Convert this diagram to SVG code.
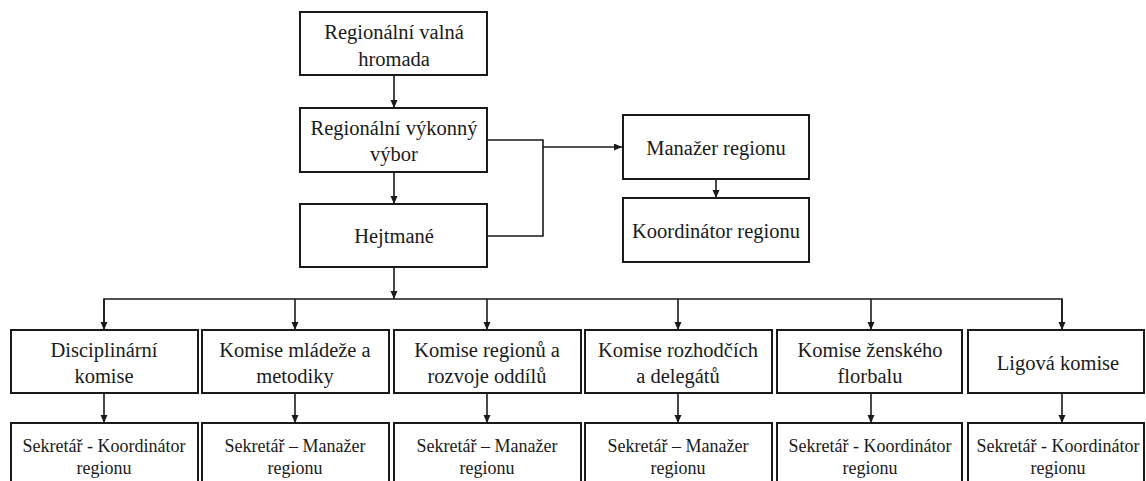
<svg xmlns="http://www.w3.org/2000/svg" width="1146" height="481" viewBox="0 0 1146 481" font-family="Liberation Serif, DejaVu Serif, serif">
  <style>
    .box { fill: #fff; stroke: #1a1a1a; stroke-width: 2; }
    .lbl { font-size: 20.5px; fill: #1a1a1a; text-anchor: middle; }
    .sm { font-size: 18px; }
    .wire { fill: none; stroke: #1a1a1a; stroke-width: 1.6; }
  </style>
  <defs>
    <marker id="arr" markerUnits="userSpaceOnUse" markerWidth="9" markerHeight="8" refX="8" refY="3.5" orient="auto">
      <path d="M0,0 L8,3.5 L0,7 z" fill="#1a1a1a"/>
    </marker>
  </defs>
  <rect width="1146" height="481" fill="#fff"/>

  <g id="connectors">
    <line class="wire" x1="394" y1="75" x2="394" y2="108" marker-end="url(#arr)"/>
    <line class="wire" x1="394" y1="172" x2="394" y2="204" marker-end="url(#arr)"/>
    <polyline class="wire" points="487,140 543,140 543,236 487,236"/>
    <line class="wire" x1="543" y1="147" x2="622" y2="147" marker-end="url(#arr)"/>
    <line class="wire" x1="716" y1="179" x2="716" y2="198" marker-end="url(#arr)"/>
    <line class="wire" x1="394" y1="267" x2="394" y2="299" marker-end="url(#arr)"/>
    <polyline class="wire" points="104,330 104,299 1062,299 1062,330"/>
    <line class="wire" x1="104" y1="299" x2="104" y2="330" marker-end="url(#arr)"/>
    <line class="wire" x1="295" y1="299" x2="295" y2="330" marker-end="url(#arr)"/>
    <line class="wire" x1="487" y1="299" x2="487" y2="330" marker-end="url(#arr)"/>
    <line class="wire" x1="678" y1="299" x2="678" y2="330" marker-end="url(#arr)"/>
    <line class="wire" x1="871" y1="299" x2="871" y2="330" marker-end="url(#arr)"/>
    <line class="wire" x1="1062" y1="299" x2="1062" y2="330" marker-end="url(#arr)"/>
    <line class="wire" x1="104" y1="393" x2="104" y2="423" marker-end="url(#arr)"/>
    <line class="wire" x1="295" y1="393" x2="295" y2="423" marker-end="url(#arr)"/>
    <line class="wire" x1="487" y1="393" x2="487" y2="423" marker-end="url(#arr)"/>
    <line class="wire" x1="678" y1="393" x2="678" y2="423" marker-end="url(#arr)"/>
    <line class="wire" x1="871" y1="393" x2="871" y2="423" marker-end="url(#arr)"/>
    <line class="wire" x1="1062" y1="393" x2="1062" y2="423" marker-end="url(#arr)"/>
  </g>

  <g id="valna-hromada">
    <rect class="box" x="300" y="12" width="187" height="63"/>
    <text class="lbl" x="394" y="39">Regionální valná</text>
    <text class="lbl" x="394" y="66">hromada</text>
  </g>
  <g id="vykonny-vybor">
    <rect class="box" x="300" y="108" width="187" height="64"/>
    <text class="lbl" x="394" y="135">Regionální výkonný</text>
    <text class="lbl" x="394" y="161">výbor</text>
  </g>
  <g id="hejtmane">
    <rect class="box" x="300" y="204" width="187" height="63"/>
    <text class="lbl" x="394" y="243">Hejtmané</text>
  </g>
  <g id="manazer">
    <rect class="box" x="623" y="115" width="186" height="64"/>
    <text class="lbl" x="716" y="155">Manažer regionu</text>
  </g>
  <g id="koordinator">
    <rect class="box" x="623" y="198" width="186" height="64"/>
    <text class="lbl" x="716" y="238">Koordinátor regionu</text>
  </g>

  <g id="disciplinarni">
    <rect class="box" x="11" y="330" width="187" height="63"/>
    <text class="lbl" x="104" y="357">Disciplinární</text>
    <text class="lbl" x="104" y="383">komise</text>
  </g>
  <g id="mladez">
    <rect class="box" x="202" y="330" width="187" height="63"/>
    <text class="lbl" x="295" y="357">Komise mládeže a</text>
    <text class="lbl" x="295" y="383">metodiky</text>
  </g>
  <g id="regiony">
    <rect class="box" x="394" y="330" width="187" height="63"/>
    <text class="lbl" x="487" y="357">Komise regionů a</text>
    <text class="lbl" x="487" y="383">rozvoje oddílů</text>
  </g>
  <g id="rozhodci">
    <rect class="box" x="585" y="330" width="187" height="63"/>
    <text class="lbl" x="678" y="357">Komise rozhodčích</text>
    <text class="lbl" x="678" y="383">a delegátů</text>
  </g>
  <g id="zensky">
    <rect class="box" x="777" y="330" width="185" height="63"/>
    <text class="lbl" x="870" y="357">Komise ženského</text>
    <text class="lbl" x="870" y="383">florbalu</text>
  </g>
  <g id="ligova">
    <rect class="box" x="968" y="330" width="176" height="63"/>
    <text class="lbl" x="1058" y="370">Ligová komise</text>
  </g>

  <g id="sekretar-1">
    <rect class="box" x="11" y="423" width="187" height="70"/>
    <text class="lbl sm" x="104" y="452">Sekretář - Koordinátor</text>
    <text class="lbl sm" x="104" y="474">regionu</text>
  </g>
  <g id="sekretar-2">
    <rect class="box" x="202" y="423" width="187" height="70"/>
    <text class="lbl sm" x="295" y="452">Sekretář – Manažer</text>
    <text class="lbl sm" x="295" y="474">regionu</text>
  </g>
  <g id="sekretar-3">
    <rect class="box" x="394" y="423" width="187" height="70"/>
    <text class="lbl sm" x="487" y="452">Sekretář – Manažer</text>
    <text class="lbl sm" x="487" y="474">regionu</text>
  </g>
  <g id="sekretar-4">
    <rect class="box" x="585" y="423" width="187" height="70"/>
    <text class="lbl sm" x="678" y="452">Sekretář – Manažer</text>
    <text class="lbl sm" x="678" y="474">regionu</text>
  </g>
  <g id="sekretar-5">
    <rect class="box" x="777" y="423" width="185" height="70"/>
    <text class="lbl sm" x="870" y="452">Sekretář - Koordinátor</text>
    <text class="lbl sm" x="870" y="474">regionu</text>
  </g>
  <g id="sekretar-6">
    <rect class="box" x="968" y="423" width="176" height="70"/>
    <text class="lbl sm" x="1058" y="452">Sekretář - Koordinátor</text>
    <text class="lbl sm" x="1058" y="474">regionu</text>
  </g>
</svg>
